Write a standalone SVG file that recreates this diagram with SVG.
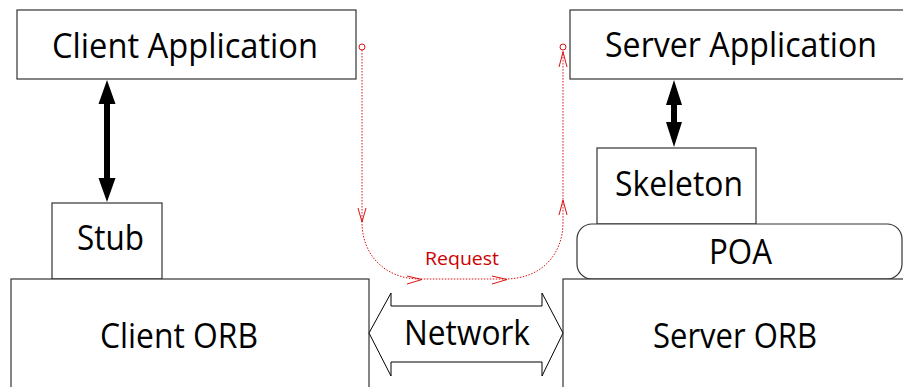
<svg xmlns="http://www.w3.org/2000/svg" width="903" height="387" viewBox="0 0 903 387">
  <style>
    .box { fill: #ffffff; stroke: #333333; stroke-width: 1.2; }
    .lbl { font-family: "Open Sans", "Noto Sans", "Liberation Sans", sans-serif; font-size: 34px; fill: #000000; }
    .req { font-family: "Open Sans", "Noto Sans", "Liberation Sans", sans-serif; font-size: 19px; fill: #cc0000; }
    .thick { fill: #000000; }
    .net { fill: #ffffff; stroke: #000000; stroke-width: 1; }
    .flow { fill: none; stroke: #dd1111; stroke-width: 1; stroke-dasharray: 1.5 1.5; }
    .head { fill: none; stroke: #dd1111; stroke-width: 1; }
  </style>

  <!-- client side -->
  <g id="client-application">
    <rect class="box" x="17" y="10" width="339" height="69"/>
    <text class="lbl" x="52" y="58" textLength="266" lengthAdjust="spacingAndGlyphs">Client Application</text>
  </g>
  <g id="stub">
    <rect class="box" x="52" y="203" width="110" height="76"/>
    <text class="lbl" x="77" y="250" textLength="67" lengthAdjust="spacingAndGlyphs">Stub</text>
  </g>
  <g id="client-orb">
    <rect class="box" x="11" y="279" width="358" height="120"/>
    <text class="lbl" x="100" y="348" textLength="158" lengthAdjust="spacingAndGlyphs">Client ORB</text>
  </g>

  <!-- server side -->
  <g id="server-application">
    <rect class="box" x="570" y="10" width="350" height="69"/>
    <text class="lbl" x="605" y="57" textLength="272" lengthAdjust="spacingAndGlyphs">Server Application</text>
  </g>
  <g id="skeleton">
    <rect class="box" x="597" y="148" width="159" height="76"/>
    <text class="lbl" x="615" y="196" textLength="128" lengthAdjust="spacingAndGlyphs">Skeleton</text>
  </g>
  <g id="poa">
    <rect class="box" x="577" y="224" width="325" height="55" rx="15" ry="15"/>
    <text class="lbl" x="709" y="264" textLength="63" lengthAdjust="spacingAndGlyphs">POA</text>
  </g>
  <g id="server-orb">
    <rect class="box" x="563" y="279" width="360" height="120"/>
    <text class="lbl" x="653" y="348" textLength="164" lengthAdjust="spacingAndGlyphs">Server ORB</text>
  </g>

  <!-- connectors -->
  <g id="connectors">
    <!-- application <-> stub -->
    <path class="thick" d="M107,80 L115.5,104 L110,104 L110,178 L115.5,178 L107,202 L98.5,178 L104,178 L104,104 L98.5,104 Z"/>
    <!-- application <-> skeleton -->
    <path class="thick" d="M674,80 L682,105 L677,105 L677,122 L682,122 L674,147 L666,122 L671,122 L671,105 L666,105 Z"/>

    <!-- network link between the ORBs -->
    <g id="network">
      <path class="net" d="M369,333 L391,293 L391,306 L542,306 L542,293 L563,333 L542,376 L542,362 L391,362 L391,376 Z"/>
      <text class="lbl" x="404" y="345" textLength="126" lengthAdjust="spacingAndGlyphs">Network</text>
    </g>

    <!-- request flow -->
    <g id="request">
      <circle class="head" cx="362" cy="47" r="3"/>
      <circle class="head" cx="563" cy="47" r="3"/>
      <path class="flow" d="M362,50 V222 C362,256 386,279 420,279 H505 C540,279 563,256 563,222 V50"/>
      <path class="head" d="M358,208 L362,222 L366,208"/>
      <path class="head" d="M407,276 L422,279.5 L407,284"/>
      <path class="head" d="M492,276 L507,279.5 L492,284"/>
      <path class="head" d="M559,215 L563,200 L567,215"/>
      <path class="head" d="M559,67 L563,52 L567,67"/>
      <text class="req" x="425" y="265" textLength="74" lengthAdjust="spacingAndGlyphs">Request</text>
    </g>
  </g>
</svg>
